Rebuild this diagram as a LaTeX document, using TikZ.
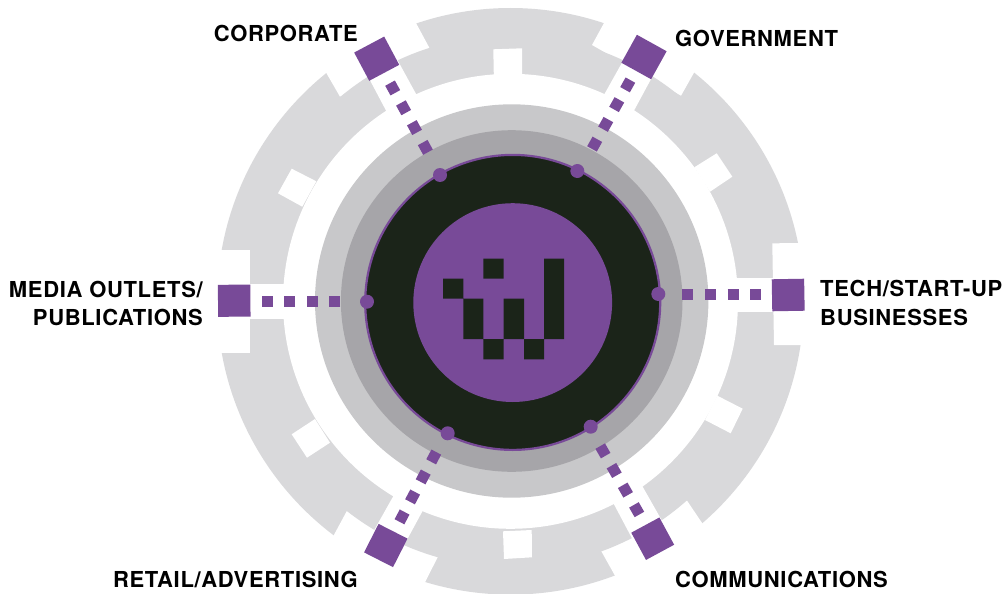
\documentclass[tikz,border=0pt]{standalone}
\usepackage{fontspec}
\setmainfont{TeX Gyre Heros}[LetterSpace=3.0]
\definecolor{ringgray}{HTML}{D9D9DB}
\definecolor{lightgray2}{HTML}{C8C8CA}
\definecolor{midgray}{HTML}{A6A5A9}
\definecolor{darkcore}{HTML}{1B2419}
\definecolor{brandpurple}{HTML}{784A98}
\tikzset{
  blank/.style={fill=white,draw=none},
  sqnode/.style={fill=brandpurple,draw=none,inner sep=0pt,shape=rectangle},
  dotnode/.style={fill=brandpurple,draw=none,circle,inner sep=0pt,minimum size=14pt},
  dashlink/.style={draw=brandpurple,line width=11pt,dash pattern=on 11pt off 11.6pt},
  lbl/.style={font=\bfseries\fontsize{22}{27}\selectfont,text=black,inner sep=0pt},
}
\begin{document}
\begin{tikzpicture}[x=1pt,y=-1pt]
\useasboundingbox (0,0) rectangle (1007,594);
% outer ring, full radius
\fill[ringgray] (510.5,301.3) circle[radius=293.3pt];
% gaps in the outer rim
\fill[blank] (340,96.7) -- (313,49.9) -- (402,-3) -- (416,23) -- (430,49) -- cycle;
\fill[blank] (592,45) -- (604,23) -- (618,-3) -- (708,48) -- (694,72.7) -- (681,95.7) -- cycle;
\fill[blank] (685.7,498.7) -- (702.3,523.3) -- (720,549.5) -- (630,602) -- (615,575.7) -- (601,550.7) -- cycle;
\fill[blank] (348.3,508.3) -- (322,557) -- (411,610) -- (425,582.3) -- (438.3,556) -- cycle;
% stepped ring
\fill[ringgray] (510.5,301.3) circle[radius=266pt];
\fill[blank] (772.3,243.3) -- (815,243) -- (815,345) -- (774,345) -- cycle;
\fill[blank] (250,250) -- (200,250) -- (200,353.3) -- (250,353.3) -- cycle;
% connector strips
\fill[blank] (392,50) -- (363,67) -- (391,120) -- (421,103) -- cycle;
\fill[blank] (628,52) -- (657,68) -- (630,118) -- (600,102) -- cycle;
\fill[blank] (725,277.7) rectangle (780,311.7);
\fill[blank] (245,284) rectangle (290,319);
\fill[blank] (635,544) -- (665,526) -- (636,475) -- (608,493) -- cycle;
\fill[blank] (372,534) -- (402,549) -- (428,501) -- (399,486) -- cycle;
% notches
\fill[blank] (493.3,49.3) -- (522,48.3) -- (522.3,85) -- (494,85) -- cycle;
\fill[blank] (503,531.3) -- (531.7,530) -- (532,557.3) -- (504,559) -- cycle;
\fill[blank] (716.7,153.3) -- (732.3,176.7) -- (710,191.7) -- (694.3,167.3) -- cycle;
\fill[blank] (291.7,168.7) -- (316.3,181.3) -- (302.3,206.7) -- (278,193.3) -- cycle;
\fill[blank] (315,419) -- (330,442.7) -- (307,457.7) -- (291.7,434.3) -- cycle;
\fill[blank] (717.3,395.7) -- (742.7,408.7) -- (730.7,433.3) -- (705,420) -- cycle;
% inner clear disc and core
\fill[white] (510.5,301.3) circle[radius=227.5pt];
\fill[lightgray2] (511.7,301) circle[radius=196.7pt];
\fill[midgray] (511.7,301) circle[radius=170.8pt];
\fill[darkcore,draw=brandpurple,line width=2.2pt] (512.7,302.4) circle[radius=147.5pt];
\fill[brandpurple] (512.7,302.6) circle[radius=99.4pt];
% icon
\fill[darkcore] (483.3,258.7) rectangle (503.7,278.7)
  (443,278.7) rectangle (463.3,298.7)
  (463.3,298.7) rectangle (483.3,339)
  (503.7,298.7) rectangle (524,339)
  (544,258.7) rectangle (564,339)
  (483.3,339) rectangle (503.7,359.3)
  (524,339) rectangle (544,359.3);
% dash ends
\coordinate (cs) at (428,152.2); \coordinate (ce) at (390,83.1);
\coordinate (gs) at (592,148.9); \coordinate (ge) at (630.4,80.1);
\coordinate (ts) at (682.3,294.6); \coordinate (te) at (761,294.6);
\coordinate (ms) at (340.3,301.3); \coordinate (me) at (261.3,301.3);
\coordinate (rs) at (436.3,452.1); \coordinate (re) at (399.4,521.9);
\coordinate (os) at (600.2,446.1); \coordinate (oe) at (639.5,514.6);
\draw[dashlink] (cs) -- (ce);
\draw[dashlink] (gs) -- (ge);
\draw[dashlink] (ts) -- (te);
\draw[dashlink] (ms) -- (me);
\draw[dashlink] (rs) -- (re);
\draw[dashlink] (os) -- (oe);
% dots
\node[dotnode] (dc) at (440,175) {};
\node[dotnode] (dg) at (577.3,171) {};
\node[dotnode] (dt) at (658.3,294) {};
\node[dotnode] (dm) at (367,301.7) {};
\node[dotnode] (dr) at (447.7,433.3) {};
\node[dotnode] (do) at (590.7,426.7) {};
% squares
\node[sqnode,minimum width=34pt,minimum height=32pt,rotate=28] (sc) at (376.7,58.7) {};
\node[sqnode,minimum width=34pt,minimum height=32pt,rotate=-29] (sg) at (644,57) {};
\node[sqnode,minimum width=32.4pt,minimum height=32pt,rotate=1] (st) at (788.2,295) {};
\node[sqnode,minimum width=32.4pt,minimum height=32pt,rotate=0.5] (sm) at (234.2,300.7) {};
\node[sqnode,minimum width=32.5pt,minimum height=32pt,rotate=-27] (sr) at (385.8,545.5) {};
\node[sqnode,minimum width=32pt,minimum height=31pt,rotate=28.4] (so) at (652.7,538.7) {};
% labels
\node[lbl,anchor=east] (l1) at (358,33) {CORPORATE};
\node[lbl,anchor=west] (l2) at (675,38) {GOVERNMENT};
\node[lbl,anchor=west] (l3) at (820,289) {TECH/START-UP};
\node[lbl,anchor=west] (l4) at (820,317) {BUSINESSES};
\node[lbl,anchor=east] (l5) at (203,290) {MEDIA OUTLETS/};
\node[lbl,anchor=east] (l6) at (203,317) {PUBLICATIONS};
\node[lbl,anchor=east] (l7) at (358,579) {RETAIL/ADVERTISING};
\node[lbl,anchor=west] (l8) at (675,579) {COMMUNICATIONS};
\end{tikzpicture}
\end{document}
